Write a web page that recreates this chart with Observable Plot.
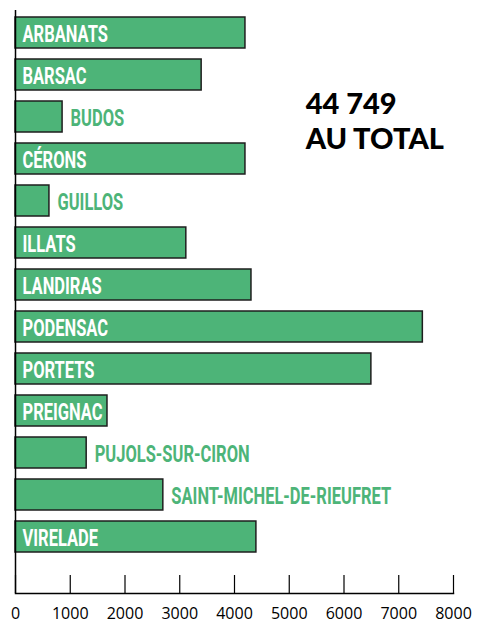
<!DOCTYPE html>
<html><head><meta charset="utf-8">
<script src="https://cdn.jsdelivr.net/npm/d3@7"></script>
<script src="https://cdn.jsdelivr.net/npm/@observablehq/plot@0.6"></script>
<style>body{margin:0;background:#fff}</style>
</head><body><div id="chart"></div>
<script>
const communes = ["ARBANATS","BARSAC","BUDOS","CÉRONS","GUILLOS","ILLATS","LANDIRAS","PODENSAC","PORTETS","PREIGNAC","PUJOLS-SUR-CIRON","SAINT-MICHEL-DE-RIEUFRET","VIRELADE"];
const electeurs = [4200, 3400, 860, 4200, 620, 3120, 4310, 7440, 6500, 1680, 1300, 2700, 4400];
const totalLines = ["44 749", "AU TOTAL"];
const totalAt = {x: 5300, y: "BUDOS"};
const xTicks = [0,1000,2000,3000,4000,5000,6000,7000,8000];

const green = "#4db478";
const data = communes.map((c, i) => ({commune: c, value: electeurs[i], inside: electeurs[i] >= c.length * 200}));
const stretch = 1.45;
const labelFont = {fontFamily: "Roboto, 'DejaVu Sans Condensed', sans-serif", fontWeight: "bold", fontSize: 16.5};

const plot = Plot.plot({
  width: 477, height: 624,
  marginLeft: 15, marginRight: 24, marginTop: 10, marginBottom: 31,
  x: {domain: [0, 8000]},
  y: {domain: communes, range: [10, 558], paddingInner: 0.27, paddingOuter: 0.1, axis: null},
  marks: [
    Plot.barX(data, {x: "value", y: "commune", fill: green, stroke: "#1e1e1e", strokeWidth: 1.5}),
    Plot.text(data.filter(d => d.inside), {x: 0, y: "commune", text: "commune", textAnchor: "start", dx: 7, dy: 1, fill: "white", ...labelFont}),
    Plot.text(data.filter(d => !d.inside), {x: "value", y: "commune", text: "commune", textAnchor: "start", dx: 8, dy: 1, fill: green, ...labelFont}),
    Plot.text([totalLines.join("\n")], {x: () => totalAt.x, y: () => totalAt.y, textAnchor: "start", lineHeight: 1.22, dy: 3, fill: "black", fontFamily: "Lato, sans-serif", fontWeight: 900, fontSize: 29}),
    Plot.ruleX([0], {stroke: "black", strokeWidth: 1.5}),
    Plot.frame({anchor: "bottom", stroke: "black", strokeWidth: 1.5}),
    Plot.axisX(xTicks, {tickSize: -18, tickFormat: () => "", label: null, strokeWidth: 1.2}),
    Plot.axisX(xTicks, {tickSize: 0, tickPadding: 14, label: null, fontSize: 16, fontFamily: "'Open Sans', sans-serif", fill: "black", tickFormat: d => String(d)})
  ]
});
document.getElementById("chart").append(plot);
d3.select(plot).selectAll("text").each(function() {
  if (communes.includes(this.textContent)) {
    const t = this.getAttribute("transform") || "";
    this.setAttribute("transform", `${t} scale(1,${stretch})`);
  }
});
</script>
</body></html>
